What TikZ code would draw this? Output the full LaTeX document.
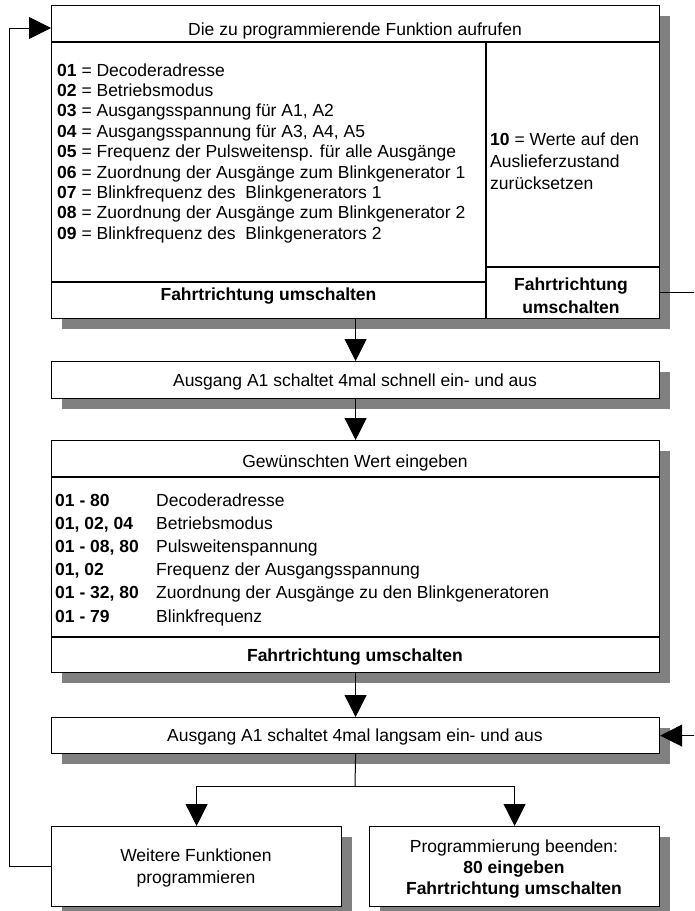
\documentclass[tikz,border=0pt]{standalone}
\usepackage{fontspec}
\setmainfont{Liberation Sans}
\usetikzlibrary{arrows.meta,shadows}
\definecolor{shadowgray}{HTML}{808080}
\begin{document}
\begin{tikzpicture}[x=1pt,y=-1pt,
  font=\fontsize{17.5}{21}\selectfont,
  box/.style={draw, line width=1.2pt, fill=white,
    general shadow={fill=shadowgray, shadow xshift=10pt, shadow yshift=-10pt},
    inner sep=0pt, anchor=north west},
  sep/.style={line width=1.2pt},
  txt/.style={inner sep=0pt, anchor=base west},
  ctxt/.style={inner sep=0pt, anchor=base},
  con/.style={line width=1pt},
  arr/.style={line width=1pt, -{Triangle[length=22pt,width=22pt]}}]
\useasboundingbox (0,0) rectangle (694,911);
\fill[white] (0,0) rectangle (694,911);
\clip (0,0) rectangle (694,911);

% boxes
\node[box, minimum width=608pt, minimum height=313pt] (top) at (51,5) {};
\node[box, minimum width=608pt, minimum height=37pt] (b2) at (51,361) {};
\node[box, minimum width=608pt, minimum height=232pt] (b3) at (51,440) {};
\node[box, minimum width=608pt, minimum height=36pt] (b4) at (51,717) {};
\node[box, minimum width=290pt, minimum height=80pt] (wf) at (51,826) {};
\node[box, minimum width=290pt, minimum height=80pt] (pe) at (369,826) {};

% inner separators
\draw[sep] (51,42) -- (659,42);
\draw[sep] (486,42) -- (486,318);
\draw[sep] (51,282) -- (486,282);
\draw[sep] (486,267) -- (659,267);
\draw[sep] (51,477) -- (659,477);
\draw[sep] (51,637) -- (659,637);

% top box texts
\node[ctxt] (t0) at (355,35) {Die zu programmierende Funktion aufrufen};
\node[txt] (t1) at (57,76.0) {\textbf{01} = Decoderadresse};
\node[txt] (t2) at (57,96.4) {\textbf{02} = Betriebsmodus};
\node[txt] (t3) at (57,116.8) {\textbf{03} = Ausgangsspannung für A1, A2};
\node[txt] (t4) at (57,137.2) {\textbf{04} = Ausgangsspannung für A3, A4, A5};
\node[txt] (t5) at (57,157.6) {\textbf{05} = Frequenz der Pulsweitensp. für alle Ausgänge};
\node[txt] (t6) at (57,178.0) {\textbf{06} = Zuordnung der Ausgänge zum Blinkgenerator 1};
\node[txt] (t7) at (57,198.4) {\textbf{07} = Blinkfrequenz des~ Blinkgenerators 1};
\node[txt] (t8) at (57,218.8) {\textbf{08} = Zuordnung der Ausgänge zum Blinkgenerator 2};
\node[txt] (t9) at (57,239.2) {\textbf{09} = Blinkfrequenz des~ Blinkgenerators 2};
\node[ctxt] (tf) at (268.5,300) {\textbf{Fahrtrichtung umschalten}};
\node[txt] (r1) at (490,145) {\textbf{10} = Werte auf den};
\node[txt] (r2) at (490,167) {Auslieferzustand};
\node[txt] (r3) at (490,189) {zurücksetzen};
\node[ctxt] (rf1) at (571,290) {\textbf{Fahrtrichtung}};
\node[ctxt] (rf2) at (571,313) {\textbf{umschalten}};

% box 2
\node[ctxt] (b2t) at (355,386) {Ausgang A1 schaltet 4mal schnell ein- und aus};

% box 3
\node[ctxt] (g0) at (355,467) {Gewünschten Wert eingeben};
\node[txt] (g1a) at (55,506.0) {\textbf{01 - 80}};
\node[txt] (g1b) at (156,506.0) {Decoderadresse};
\node[txt] (g2a) at (55,529.2) {\textbf{01, 02, 04}};
\node[txt] (g2b) at (156,529.2) {Betriebsmodus};
\node[txt] (g3a) at (55,552.4) {\textbf{01 - 08, 80}};
\node[txt] (g3b) at (156,552.4) {Pulsweitenspannung};
\node[txt] (g4a) at (55,575.6) {\textbf{01, 02}};
\node[txt] (g4b) at (156,575.6) {Frequenz der Ausgangsspannung};
\node[txt] (g5a) at (55,598.8) {\textbf{01 - 32, 80}};
\node[txt] (g5b) at (156,598.8) {Zuordnung der Ausgänge zu den Blinkgeneratoren};
\node[txt] (g6a) at (55,622.0) {\textbf{01 - 79}};
\node[txt] (g6b) at (156,622.0) {Blinkfrequenz};
\node[ctxt] (gf) at (355,661) {\textbf{Fahrtrichtung umschalten}};

% box 4
\node[ctxt] (b4t) at (355,741) {Ausgang A1 schaltet 4mal langsam ein- und aus};

% bottom boxes
\node[ctxt] (w1) at (196,861) {Weitere Funktionen};
\node[ctxt] (w2) at (196,883) {programmieren};
\node[ctxt] (p1) at (514,852) {Programmierung beenden:};
\node[ctxt] (p2) at (514,873) {\textbf{80 eingeben}};
\node[ctxt] (p3) at (514,894) {\textbf{Fahrtrichtung umschalten}};

% connectors
\draw[arr] (top.south) -- (b2.north);
\draw[arr] (b2.south) -- (b3.north);
\draw[arr] (b3.south) -- (b4.north);
\coordinate (br) at (355,786);
\draw[con] (b4.south) -- (br);
\draw[arr] (br) -| (wf.north);
\draw[arr] (br) -| (pe.north);
\coordinate (rc) at (659,292);
\coordinate (rr) at (702,292);
\draw[arr] (rc) -- (rr) |- (b4.east);
\coordinate (ll) at (9,28);
\coordinate (topin) at (51,28);
\draw[arr] (wf.west) -| (ll) -- (topin);
\end{tikzpicture}
\end{document}
